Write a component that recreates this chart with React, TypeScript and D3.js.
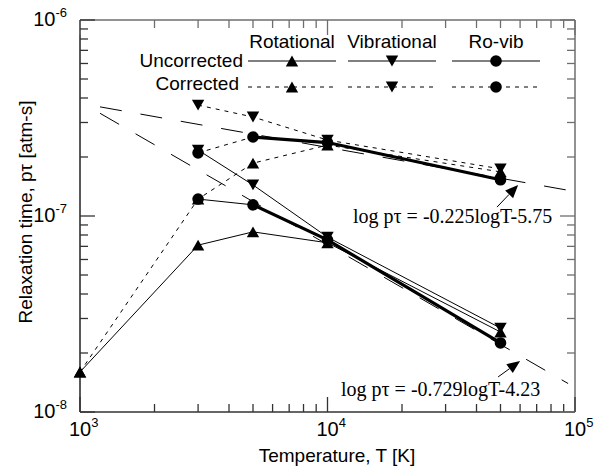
import React from "react";
import * as d3 from "d3";

const temps = [1000, 3000, 5000, 10000, 50000];
const uncorrRot = [1.6e-8, 7.1e-8, 8.3e-8, 7.3e-8, 2.56e-8];
const uncorrVib = [null, 2.17e-7, 1.44e-7, 7.8e-8, 2.68e-8];
const uncorrRoVib = [null, 1.22e-7, 1.14e-7, 7.55e-8, 2.25e-8];
const corrRot = [1.6e-8, 1.22e-7, 1.86e-7, 2.3e-7, 1.68e-7];
const corrVib = [null, 3.68e-7, 3.2e-7, 2.44e-7, 1.74e-7];
const corrRoVib = [null, 2.1e-7, 2.53e-7, 2.37e-7, 1.53e-7];
const thickFromT = 5000;

const fitSlopes = [-0.225, -0.729];
const fitIntercepts = [-5.75, -4.23];
const fitTRange = [1205, 93800];
const fitLabels = ["log pτ = -0.225logT-5.75", "log pτ = -0.729logT-4.23"];
const fitLabelAt = [[12680, 9.2e-8], [11340, 1.21e-8]];
const arrowTail = [[48400, 1.11e-7], [48900, 1.51e-8]];
const arrowTip = [[58900, 1.44e-7], [60000, 1.82e-8]];

const xTickExps = [3, 4, 5];
const yTickExps = [-8, -7, -6];
const legendCols = ["Rotational", "Vibrational", "Ro-vib"];
const legendRows = ["Uncorrected", "Corrected"];

const W = 605, H = 471;
const L = 80, R = 575, T = 20, B = 412;
const SANS = "'Liberation Sans', Arial, sans-serif";
const SERIF = "'Liberation Serif', 'Times New Roman', serif";

type Shape = "up" | "down" | "circle";

function Marker({ x, y, shape }: { x: number; y: number; shape: Shape }) {
  if (shape === "circle") return <circle cx={x} cy={y} r={5.8} fill="#000" />;
  const w = 6.2, h = 5.4;
  const pts =
    shape === "up"
      ? `${x - w},${y + h} ${x + w},${y + h} ${x},${y - h}`
      : `${x - w},${y - h} ${x + w},${y - h} ${x},${y + h}`;
  return <polygon points={pts} fill="#000" />;
}

export default function App() {
  const x = d3.scaleLog().domain([1e3, 1e5]).range([L, R]);
  const y = d3.scaleLog().domain([1e-8, 1e-6]).range([B, T]);

  const series = [
    { vals: uncorrRot, shape: "up" as Shape, dash: null },
    { vals: uncorrVib, shape: "down" as Shape, dash: null },
    { vals: uncorrRoVib, shape: "circle" as Shape, dash: null, thick: true },
    { vals: corrRot, shape: "up" as Shape, dash: "4,5" },
    { vals: corrVib, shape: "down" as Shape, dash: "4,5" },
    { vals: corrRoVib, shape: "circle" as Shape, dash: "4,5", thick: true },
  ];

  const line = d3
    .line<[number, number]>()
    .x((d) => x(d[0]))
    .y((d) => y(d[1]));

  const pts = (vals: (number | null)[]) =>
    temps.map((t, i) => [t, vals[i]] as [number, number | null]).filter((d) => d[1] != null) as [number, number][];

  const xMinor: number[] = [];
  for (let e = 3; e < 5; e++) for (let k = 2; k <= 9; k++) xMinor.push(k * Math.pow(10, e));
  const yMinor: number[] = [];
  for (let e = -8; e < -6; e++) for (let k = 2; k <= 9; k++) yMinor.push(k * Math.pow(10, e));

  const frameGray = "#6e6e6e";
  const minorLen = 8, majorLen = 15;

  const legCenters = [292, 392, 496];
  const legHalf = 44;
  const legRowY = [61, 87];
  const legShapes: Shape[] = ["up", "down", "circle"];

  const markersOrder: Shape[] = ["up", "down", "circle"];

  return (
    <svg width={W} height={H} style={{ position: "absolute", left: 0, top: 0, background: "#fff" }}>
      <rect x={0} y={0} width={W} height={H} fill="#fff" />
      <line x1={L} y1={T} x2={R} y2={T} stroke={frameGray} strokeWidth={1.5} />
      <line x1={R} y1={T} x2={R} y2={B} stroke={frameGray} strokeWidth={1.5} />
      <line x1={L} y1={T} x2={L} y2={B} stroke="#222" strokeWidth={1.5} />
      <line x1={L} y1={B} x2={R} y2={B} stroke="#333" strokeWidth={1.5} />

      {xMinor.map((t, i) => (
        <g key={"xm" + i}>
          <line x1={x(t)} x2={x(t)} y1={B} y2={B - minorLen} stroke="#333" strokeWidth={1.3} />
          <line x1={x(t)} x2={x(t)} y1={T} y2={T + minorLen} stroke={frameGray} strokeWidth={1.3} />
        </g>
      ))}
      {xTickExps.map((e) => (
        <g key={"xM" + e}>
          <line x1={x(10 ** e)} x2={x(10 ** e)} y1={B} y2={B - majorLen} stroke="#333" strokeWidth={1.3} />
          <line x1={x(10 ** e)} x2={x(10 ** e)} y1={T} y2={T + majorLen} stroke={frameGray} strokeWidth={1.3} />
          <text x={x(10 ** e) - 11} y={B + 24} fontFamily={SANS} fontSize={20} fill="#000">
            10
            <tspan fontSize={13} dy={-9}>{e}</tspan>
          </text>
        </g>
      ))}
      {yMinor.map((v, i) => (
        <g key={"ym" + i}>
          <line x1={L} x2={L + minorLen} y1={y(v)} y2={y(v)} stroke="#333" strokeWidth={1.3} />
          <line x1={R} x2={R - minorLen} y1={y(v)} y2={y(v)} stroke={frameGray} strokeWidth={1.3} />
        </g>
      ))}
      {yTickExps.map((e) => (
        <g key={"yM" + e}>
          <line x1={L} x2={L + majorLen} y1={y(10 ** e)} y2={y(10 ** e)} stroke="#333" strokeWidth={1.3} />
          <line x1={R} x2={R - majorLen} y1={y(10 ** e)} y2={y(10 ** e)} stroke={frameGray} strokeWidth={1.3} />
          <text x={67} y={y(10 ** e) + 6} textAnchor="end" fontFamily={SANS} fontSize={20} fill="#000">
            10
            <tspan fontSize={13} dy={-9}>{e}</tspan>
          </text>
        </g>
      ))}

      <text x={337} y={462} textAnchor="middle" fontFamily={SANS} fontSize={19} fill="#000">
        Temperature, T [K]
      </text>
      <text
        transform={`translate(32,212) rotate(-90)`}
        textAnchor="middle"
        fontFamily={SANS}
        fontSize={19}
        fill="#000"
      >
        Relaxation time, pτ [atm-s]
      </text>

      {fitSlopes.map((m, i) => {
        const f = (t: number) => Math.pow(10, m * Math.log10(t) + fitIntercepts[i]);
        const d = line(fitTRange.map((t) => [t, f(t)] as [number, number]));
        return <path key={"fit" + i} d={d || ""} fill="none" stroke="#000" strokeWidth={1} strokeDasharray="22,19" />;
      })}

      {series.map((s, i) => (
        <path
          key={"s" + i}
          d={line(pts(s.vals)) || ""}
          fill="none"
          stroke="#000"
          strokeWidth={1}
          strokeDasharray={s.dash || undefined}
        />
      ))}
      {series
        .filter((s) => s.thick)
        .map((s, i) => (
          <path
            key={"th" + i}
            d={line(pts(s.vals).filter((d) => d[0] >= thickFromT)) || ""}
            fill="none"
            stroke="#000"
            strokeWidth={3.2}
          />
        ))}

      {markersOrder.map((shape) =>
        series
          .filter((s) => s.shape === shape)
          .map((s, i) =>
            pts(s.vals).map((d, j) => (
              <Marker key={shape + i + "-" + j} x={x(d[0])} y={y(d[1])} shape={shape} />
            ))
          )
      )}

      {fitLabels.map((lab, i) => (
        <text
          key={"lab" + i}
          x={x(fitLabelAt[i][0])}
          y={y(fitLabelAt[i][1])}
          fontFamily={SERIF}
          fontSize={20}
          fill="#000"
        >
          {lab}
        </text>
      ))}
      {arrowTail.map((tail, i) => {
        const x0 = x(tail[0]), y0 = y(tail[1]);
        const x1 = x(arrowTip[i][0]), y1 = y(arrowTip[i][1]);
        const ang = Math.atan2(y1 - y0, x1 - x0);
        const hl = 13, hw = 5.5;
        const bx = x1 - hl * Math.cos(ang), by = y1 - hl * Math.sin(ang);
        const px = -Math.sin(ang) * hw, py = Math.cos(ang) * hw;
        return (
          <g key={"arr" + i}>
            <line x1={x0} y1={y0} x2={bx} y2={by} stroke="#000" strokeWidth={1} />
            <polygon points={`${x1},${y1} ${bx + px},${by + py} ${bx - px},${by - py}`} fill="#000" />
          </g>
        );
      })}

      {legendCols.map((c, i) => (
        <text key={"lc" + i} x={legCenters[i]} y={48} textAnchor="middle" fontFamily={SANS} fontSize={19} fill="#000">
          {c}
        </text>
      ))}
      {legendRows.map((r, ri) => (
        <g key={"lr" + ri}>
          <text
            x={ri === 0 ? 243 : 239}
            y={legRowY[ri] + (ri === 0 ? 6 : 3)}
            textAnchor="end"
            fontFamily={SANS}
            fontSize={19}
            fill="#000"
          >
            {r}
          </text>
          {legCenters.map((cx, ci) => (
            <g key={"lg" + ri + ci}>
              <line
                x1={cx - legHalf}
                x2={cx + legHalf}
                y1={legRowY[ri]}
                y2={legRowY[ri]}
                stroke="#000"
                strokeWidth={1}
                strokeDasharray={ri === 1 ? "4,5" : undefined}
              />
              <Marker x={cx} y={legRowY[ri]} shape={legShapes[ci]} />
            </g>
          ))}
        </g>
      ))}
    </svg>
  );
}
